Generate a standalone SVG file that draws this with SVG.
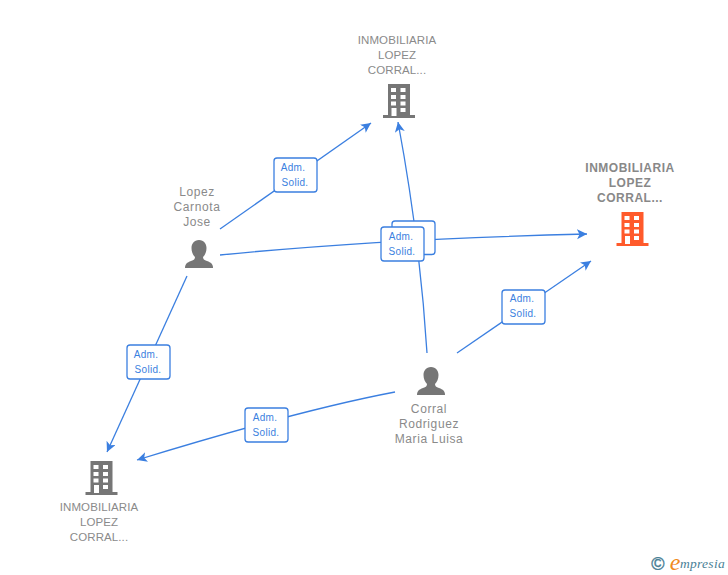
<svg xmlns="http://www.w3.org/2000/svg" width="728" height="575" viewBox="0 0 728 575">
<style>
text{font-family:"Liberation Sans",Arial,sans-serif;text-anchor:middle}
.n{font-size:11.500px;fill:#8a8a8a;letter-spacing:.1px}
.m{font-size:12px;fill:#8a8a8a;letter-spacing:.6px}
.b{font-size:12px;font-weight:bold;fill:#888;letter-spacing:.5px}
.e{fill:none;stroke:#3b7fe0;stroke-width:1.3}
.lb{fill:#fff;stroke:#3b7fe0;stroke-width:1.3}
.lt{font-size:10px;fill:#3b7fe0;letter-spacing:.3px}
.g{fill:#767676}.o{fill:#ff5a2b}
</style>
<defs>
<marker id="a" markerUnits="userSpaceOnUse" markerWidth="12" markerHeight="12" refX="10" refY="5" orient="auto"><path d="M0 0L10 5L0 10L2.500 5Z" fill="#3b7fe0"/></marker>
<g id="bw"><rect x="5" y="0" width="22" height="31.500"/><rect x="0" y="31" width="32" height="3"/></g>
<g id="win" fill="#fff"><rect x="8" y="4" width="5" height="4"/><rect x="17.500" y="4" width="5" height="4"/><rect x="8" y="11" width="5" height="4"/><rect x="17.500" y="11" width="5" height="4"/><rect x="8" y="17.500" width="5" height="4"/><rect x="17.500" y="17.500" width="5" height="4"/><rect x="8.500" y="24" width="5" height="8"/><rect x="17.500" y="24" width="5" height="4"/></g>
<path id="p" d="M14 0C19 0 21.500 4 21.500 8C21.500 12 20 15 18 17C18 19 19 20 22 21C26 22.500 28 24 28 28L0 28C0 24 2 22.500 6 21C9 20 10 19 10 17C8 15 6.500 12 6.500 8C6.500 4 9 0 14 0Z"/>
</defs>
<g id="connectors">
<path class="e" marker-end="url(#a)" d="M220 229L371 123"/>
<path class="e" marker-end="url(#a)" d="M427 353Q420 240 398 122"/>
<path class="e" marker-end="url(#a)" d="M220 255Q380 239 587 234"/>
<path class="e" marker-end="url(#a)" d="M457 353L591 261"/>
<path class="e" marker-end="url(#a)" d="M187 276L107 452"/>
<path class="e" marker-end="url(#a)" d="M395 392Q300 410 137 460"/>
</g>
<g id="label1"><rect class="lb" x="274" y="158" width="43" height="34" rx="3"/><text class="lt" x="293" y="171">Adm.</text><text class="lt" x="295" y="186">Solid.</text></g>
<g id="label2"><rect class="lb" x="392" y="221" width="43" height="33.500" rx="3"/></g>
<g id="label3"><rect class="lb" x="381" y="227" width="43" height="34" rx="3"/><text class="lt" x="401" y="240">Adm.</text><text class="lt" x="402" y="255">Solid.</text></g>
<g id="label4"><rect class="lb" x="502" y="290" width="43" height="34" rx="3"/><text class="lt" x="522" y="302">Adm.</text><text class="lt" x="523" y="317">Solid.</text></g>
<g id="label5"><rect class="lb" x="127" y="345" width="43" height="34" rx="3"/><text class="lt" x="146" y="358">Adm.</text><text class="lt" x="148" y="373">Solid.</text></g>
<g id="label6"><rect class="lb" x="245" y="408" width="43" height="34" rx="3"/><text class="lt" x="265" y="421">Adm.</text><text class="lt" x="266" y="436">Solid.</text></g>
<g id="company-top"><use href="#bw" x="383" y="84" class="g"/><use href="#win" x="383" y="84"/><text class="n" x="397" y="44">INMOBILIARIA</text><text class="n" x="397" y="59">LOPEZ</text><text class="n" x="397" y="74">CORRAL...</text></g>
<g id="company-main"><use href="#bw" x="616.500" y="212" class="o"/><use href="#win" x="616.500" y="212"/><text class="b" x="630" y="172">INMOBILIARIA</text><text class="b" x="630" y="187">LOPEZ</text><text class="b" x="630" y="202">CORRAL...</text></g>
<g id="company-bottom"><use href="#bw" x="85.500" y="461" class="g"/><use href="#win" x="85.500" y="461"/><text class="n" x="99" y="511">INMOBILIARIA</text><text class="n" x="99" y="526">LOPEZ</text><text class="n" x="99" y="541">CORRAL...</text></g>
<g id="person-lopez"><use href="#p" x="185" y="240" class="g"/><text class="m" x="197" y="196">Lopez</text><text class="m" x="197" y="211">Carnota</text><text class="m" x="197" y="226">Jose</text></g>
<g id="person-corral"><use href="#p" x="417" y="367" class="g"/><text class="m" x="429" y="413">Corral</text><text class="m" x="429" y="428">Rodriguez</text><text class="m" x="429" y="443">Maria Luisa</text></g>
<g id="brand"><text x="658" y="570" style="font-size:18px;fill:#4a7f96;stroke:#4a7f96;stroke-width:.4">©</text><text x="675" y="570" style="font-family:'Liberation Serif',serif;font-size:24px;font-style:italic;fill:#f08a1d">e</text><text x="725" y="568" style="font-family:'Liberation Serif',serif;font-size:13.500px;font-style:italic;fill:#4a7f96;letter-spacing:.3px;text-anchor:end">mpresia</text></g>
</svg>
